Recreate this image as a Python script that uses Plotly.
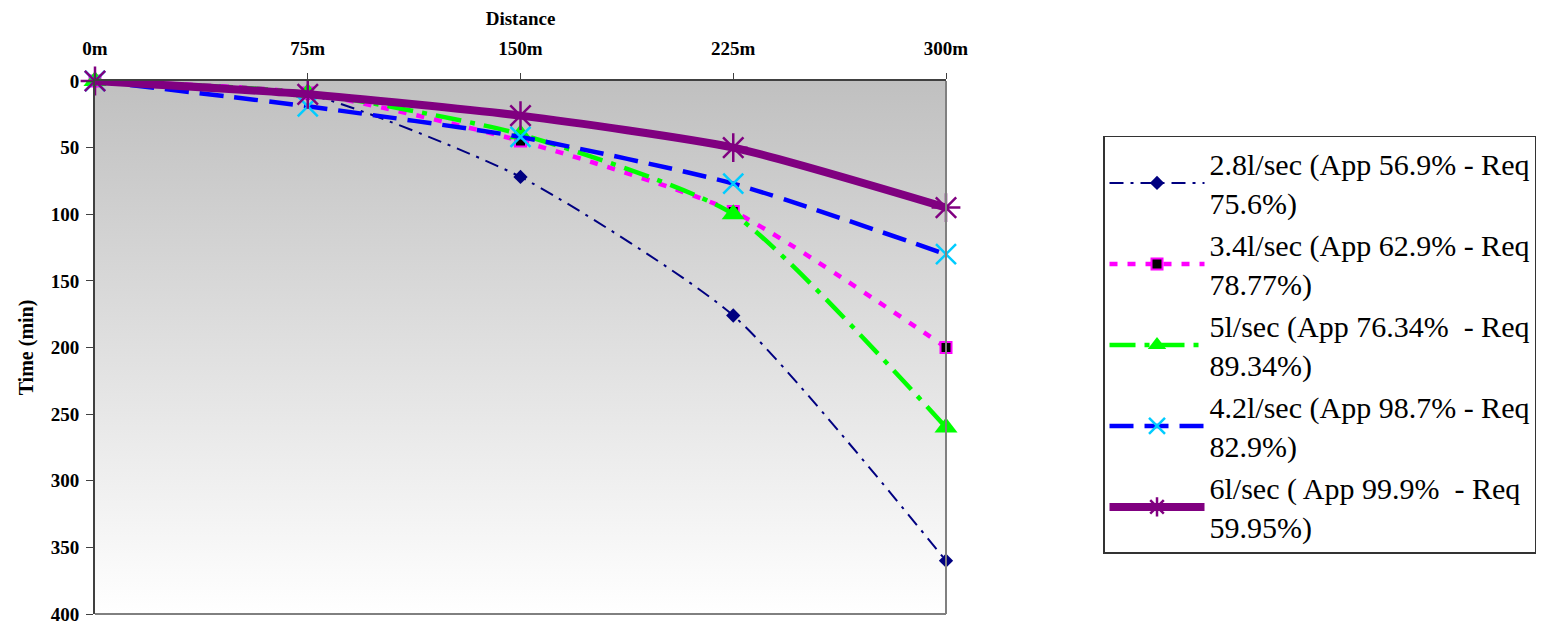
import plotly.graph_objects as go

distance_m = [0, 75, 150, 225, 300]
distance_labels = ["0m", "75m", "150m", "225m", "300m"]
y_ticks = [0, 50, 100, 150, 200, 250, 300, 350, 400]

names = [
    "2.8l/sec (App 56.9% - Req<br>75.6%)",
    "3.4l/sec (App 62.9% - Req<br>78.77%)",
    "5l/sec (App 76.34%  - Req<br>89.34%)",
    "4.2l/sec (App 98.7% - Req<br>82.9%)",
    "6l/sec ( App 99.9%  - Req<br>59.95%)",
]
t_28 = [0, 10, 72, 176, 360]
t_34 = [0, 9, 45, 98, 200]
t_50 = [0, 9, 40, 100, 260]
t_42 = [0, 19, 42, 77, 130]
t_60 = [0, 10, 26, 50, 95]

FONT = "Liberation Serif"

fig = go.Figure()

# plot-area gradient background
x0, x1 = distance_m[0], distance_m[-1]
y0, y1 = y_ticks[0], y_ticks[-1]
fig.add_trace(go.Scatter(
    x=[x0, x1, x1, x0, x0],
    y=[y0, y0, y1, y1, y0],
    mode="lines", line=dict(width=0), fill="toself",
    fillgradient=dict(type="vertical", start=y0, stop=y1,
                      colorscale=[[0, "#c0c0c0"], [1, "#ffffff"]]),
    hoverinfo="skip", showlegend=False,
))

styles = [
    dict(data=t_28, line=dict(color="#000080", width=2, dash="14px,7px,3px,7px"),
         marker=dict(symbol="diamond", size=11, color="#000080")),
    dict(data=t_34, line=dict(color="#ff00ff", width=4.5, dash="8px,10px"),
         marker=dict(symbol="square", size=11, color="#000000",
                     line=dict(color="#ff00ff", width=2))),
    dict(data=t_50, line=dict(color="#00ff00", width=4.5, dash="26px,9px,5px,9px"),
         marker=dict(symbol="triangle-up", size=20, color="#00ff00")),
    dict(data=t_42, line=dict(color="#0000ff", width=4.5, dash="24px,11px"),
         marker=dict(symbol="x-thin-open", size=20, color="#00ccff",
                     line=dict(color="#00ccff", width=2.5))),
    dict(data=t_60, line=dict(color="#800080", width=8),
         marker=dict(symbol="asterisk-open", size=24, color="#800080",
                     line=dict(color="#800080", width=2.5))),
]

for name, st in zip(names, styles):
    line = dict(st["line"], shape="spline", smoothing=0.6)
    fig.add_trace(go.Scatter(
        x=distance_m, y=st["data"], name=name, mode="lines+markers",
        line=line, marker=st["marker"], cliponaxis=False,
    ))

fig.update_layout(
    width=1553, height=617,
    margin=dict(l=87, r=615, t=73, b=11, autoexpand=False),
    paper_bgcolor="white", plot_bgcolor="white",
    font=dict(family=FONT, color="black"),
    showlegend=True,
    legend=dict(
        x=1.1845, y=0.897, xanchor="left", yanchor="top",
        bordercolor="#333333", borderwidth=1.5, bgcolor="white",
        font=dict(family=FONT, size=30),
        itemwidth=95, tracegroupgap=0,
    ),
    xaxis=dict(
        side="top", range=[x0, x1], automargin=False,
        tickvals=distance_m, ticktext=distance_labels,
        showgrid=False, zeroline=False,
        showline=True, linecolor="#404040", linewidth=2,
        ticks="outside", ticklen=6, tickcolor="#404040",
        ticklabelstandoff=10,
        tickfont=dict(family=FONT, size=19, color="black", weight="bold"),
        title=dict(text="<b>Distance</b>", font=dict(family=FONT, size=19), standoff=14),
    ),
    yaxis=dict(
        range=[y1, y0], tickvals=y_ticks, automargin=False,
        showgrid=True, gridcolor="#cccccc", griddash="dash", gridwidth=1,
        zeroline=False,
        showline=True, linecolor="#404040", linewidth=2,
        ticks="outside", ticklen=7, tickcolor="#404040",
        ticklabelstandoff=3,
        tickfont=dict(family=FONT, size=19, color="black", weight="bold"),
        title=dict(text="<b>Time (min)</b>", font=dict(family=FONT, size=20), standoff=12),
    ),
    shapes=[
        dict(type="line", xref="paper", yref="paper", x0=1, x1=1, y0=0, y1=1,
             line=dict(color="#808080", width=2)),
        dict(type="line", xref="paper", yref="paper", x0=0, x1=1, y0=0, y1=0,
             line=dict(color="#808080", width=2)),
    ],
)

fig.write_html("out.html")
